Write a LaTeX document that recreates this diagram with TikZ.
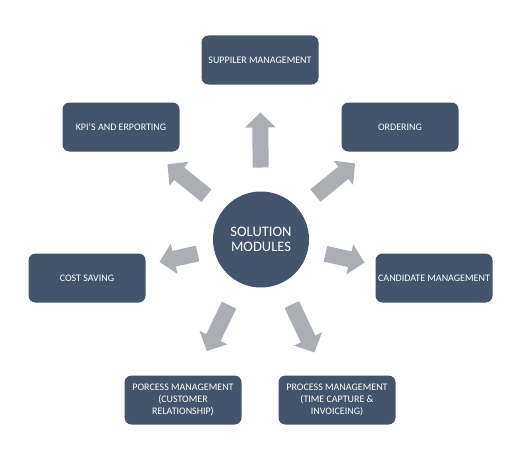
\documentclass[tikz,border=0pt]{standalone}
\usepackage{fontspec}
\setmainfont{Carlito}
\usetikzlibrary{positioning, arrows.meta, calc}
\definecolor{slate}{HTML}{44546A}
\definecolor{arrowgray}{HTML}{ABAEB5}
\tikzset{
    % Node styles
    module/.style={rectangle, fill=slate, rounded corners=7pt, minimum width=117pt,
                   minimum height=49pt, inner sep=2pt, align=center, text=white,
                   font=\fontsize{10}{12}\selectfont},
    hub/.style={circle, fill=slate, minimum size=96pt, inner sep=0pt, align=center,
                text=white, font=\fontsize{14.5}{15.5}\selectfont},
    % Arrow styles
    block arrow/.style={arrowgray, line width=16pt, -{Triangle[length=15pt, width=30pt]}},
}

\begin{document}
\begin{tikzpicture}[x=1pt, y=-1pt]
    \fill[white] (0,0) rectangle (521,460);

    % Centre
    \node[hub] (hub) at (261, 239.5) {SOLUTION\\MODULES};

    % Modules
    \node[module] (supplier) at (260, 60) {SUPPILER MANAGEMENT};
    \node[module] (kpi) at (121, 127) {KPI'S AND ERPORTING};
    \node[module] (ordering) at (400, 127) {ORDERING};
    \node[module] (cost) at (87, 278) {COST SAVING};
    \node[module] (candidate) at (434, 278) {CANDIDATE MANAGEMENT};
    \node[module] (crm) at (183, 400) {PORCESS MANAGEMENT\\(CUSTOMER\\RELATIONSHIP)};
    \node[module] (invoicing) at (337, 400) {PROCESS MANAGEMENT\\(TIME CAPTURE \&\\INVOICEING)};

    % Arrows
    \foreach \mod/\rin/\rout in {supplier/72/127, kpi/70/120, ordering/70/121, cost/65/104,
                                 candidate/66/106, crm/73/124, invoicing/72/125}
        \draw[block arrow] ($(hub)!\rin pt!(\mod)$) -- ($(hub)!\rout pt!(\mod)$);
\end{tikzpicture}
\end{document}
